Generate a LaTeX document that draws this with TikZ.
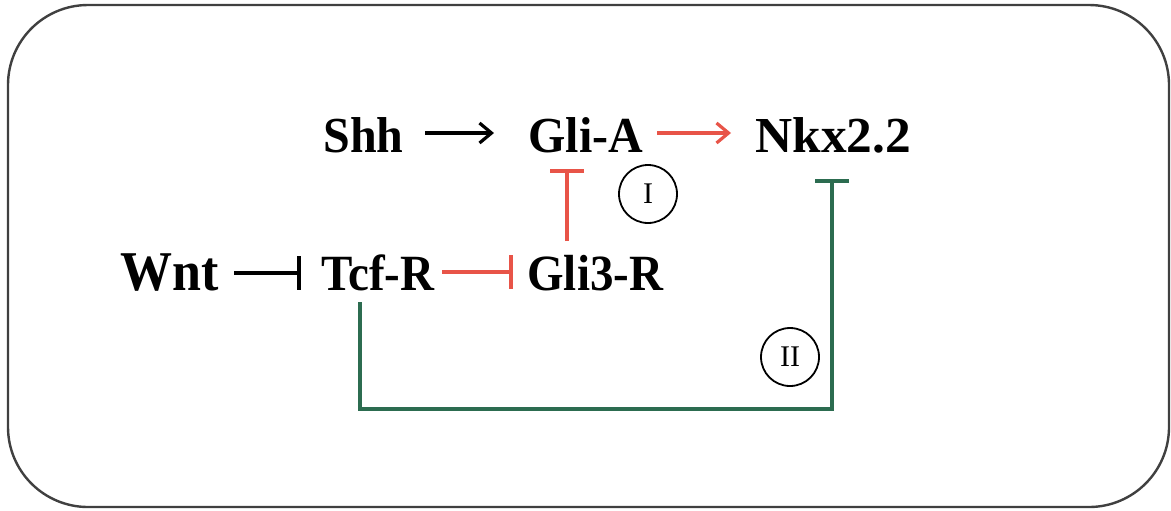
\documentclass[tikz,border=0pt]{standalone}
\usepackage{fontspec}
\setmainfont{Liberation Serif}
\usetikzlibrary{arrows.meta}
\definecolor{rd}{RGB}{232,84,72}
\definecolor{gr}{RGB}{44,108,80}
\begin{document}
\begin{tikzpicture}[x=0.5pt,y=-0.5pt,
  lbl/.style={inner sep=0pt,font=\fontsize{24}{28}\selectfont\bfseries,anchor=base west},
  big/.style={lbl,font=\fontsize{23.5}{28}\selectfont\bfseries,yscale=1.08},
  rom/.style={circle,draw,line width=0.9pt,minimum size=29pt,inner sep=0pt,font=\fontsize{15}{17}\selectfont},
  act/.style={line width=1.6pt,-{Straight Barb[length=6pt,width=10pt,line width=1.6pt]}},
  inh/.style={line width=1.6pt,-{Bar[width=17pt,line width=2pt]}}]
\useasboundingbox (0,0) rectangle (1171,510);
\draw[line width=1.2pt,black!75,rounded corners=40pt] (8,5) rectangle (1169,507);
\node[lbl,yscale=1.05] (shh) at (323,152) {Shh};
\node[lbl,yscale=1.05] (glia) at (528,152) {Gli-A};
\node[lbl,xscale=1.07,yscale=1.05] (nkx) at (755,152) {Nkx2.2};
\node[big,font=\fontsize{26}{30}\selectfont\bfseries] (wnt) at (120,290) {Wnt};
\node[big] (tcf) at (321,290) {Tcf-R};
\node[big] (gli3) at (527,290) {Gli3-R};
\node[rom] (c1) at (648,194) {I};
\node[rom] (c2) at (790,357) {II};
\coordinate (a1s) at (425,133); \coordinate (a1e) at (494,133);
\draw[act] (a1s) -- (a1e);
\coordinate (a2s) at (657,133); \coordinate (a2e) at (731,133);
\draw[act,rd,line width=2pt] (a2s) -- (a2e);
\coordinate (b1s) at (234,273); \coordinate (b1e) at (301,273);
\draw[inh] (b1s) -- (b1e);
\coordinate (b2s) at (442,272); \coordinate (b2e) at (513,272);
\draw[inh,rd] (b2s) -- (b2e);
\coordinate (b3s) at (567,241); \coordinate (b3e) at (567,169);
\draw[inh,rd] (b3s) -- (b3e);
\coordinate (g1) at (360,302); \coordinate (g2) at (360,409);
\coordinate (g3) at (832,409); \coordinate (g4) at (832,179);
\draw[inh,gr,line width=2pt] (g1) -- (g2) -- (g3) -- (g4);
\end{tikzpicture}
\end{document}
